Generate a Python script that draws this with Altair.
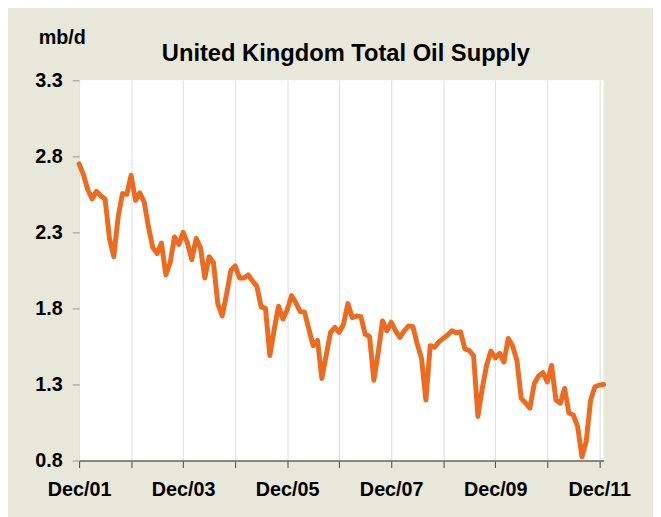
import altair as alt
import pandas as pd

# Monthly UK total oil supply (mb/d), Dec 2001 .. Jan 2012
supply = [
    2.75, 2.68, 2.58, 2.52, 2.57, 2.54, 2.52, 2.26, 2.14, 2.40,
    2.555, 2.55, 2.675, 2.51, 2.56, 2.50, 2.335, 2.20, 2.16, 2.23,
    2.02, 2.10, 2.27, 2.22, 2.30, 2.23, 2.12, 2.26, 2.20, 2.00,
    2.14, 2.10, 1.83, 1.75, 1.89, 2.05, 2.08, 2.00, 2.00, 2.02,
    1.98, 1.945, 1.81, 1.80, 1.49, 1.66, 1.815, 1.73, 1.79, 1.884,
    1.837, 1.78, 1.776, 1.664, 1.555, 1.59, 1.34, 1.49, 1.642, 1.675,
    1.642, 1.696, 1.832, 1.74, 1.75, 1.746, 1.63, 1.616, 1.328, 1.51,
    1.718, 1.653, 1.71, 1.653, 1.61, 1.653, 1.685, 1.68, 1.567, 1.47,
    1.198, 1.555, 1.545, 1.58, 1.603, 1.625, 1.653, 1.64, 1.646, 1.534,
    1.523, 1.49, 1.09, 1.274, 1.425, 1.52, 1.474, 1.505, 1.447, 1.603,
    1.555, 1.458, 1.21, 1.177, 1.144, 1.306, 1.356, 1.378, 1.317, 1.425,
    1.198, 1.177, 1.274, 1.112, 1.10, 1.025, 0.824, 0.928, 1.198, 1.285,
    1.296, 1.30,
]
month_index = list(range(len(supply)))

x_tick_values = [0, 12, 24, 36, 48, 60, 72, 84, 96, 108, 120]
x_tick_labels = ["Dec/01", "", "Dec/03", "", "Dec/05", "", "Dec/07", "",
                 "Dec/09", "", "Dec/11"]
y_tick_values = [0.8, 1.3, 1.8, 2.3, 2.8, 3.3]
title_text = "United Kingdom Total Oil Supply"
unit_text = "mb/d"

df = pd.DataFrame({"m": month_index, "v": supply})

label_expr = "[" + ",".join("'%s'" % s for s in x_tick_labels) + "][round(datum.value/12)]"

FONT = "Liberation Sans"

line = alt.Chart(df).mark_line(
    color="#EE6A1E", strokeWidth=5, strokeJoin="round", strokeCap="round"
).encode(
    x=alt.X("m:Q",
            scale=alt.Scale(domain=[0, 121], nice=False, zero=False),
            axis=alt.Axis(values=x_tick_values, labelExpr=label_expr,
                          title=None, grid=True, gridColor="#dcdcdc", gridWidth=1,
                          domain=True, domainColor="#666666", domainWidth=1.5,
                          ticks=True, tickColor="#444444", tickSize=7, tickWidth=1,
                          labelFont=FONT, labelFontSize=20, labelFontWeight="bold",
                          labelColor="#000000", labelPadding=12,
                          labelFlush=False, labelOverlap=False)),
    y=alt.Y("v:Q",
            scale=alt.Scale(domain=[0.8, 3.3], nice=False, zero=False),
            axis=alt.Axis(values=y_tick_values, format=".1f", title=None,
                          grid=False, domain=False,
                          ticks=True, tickColor="#999999", tickSize=7,
                          labelFont=FONT, labelFontSize=20, labelFontWeight="bold",
                          labelColor="#000000", labelPadding=10,
                          labelFlush=False, labelOverlap=False)),
)

title = alt.Chart(df).mark_text(
    font=FONT, fontSize=24, fontWeight="bold", color="#000000",
    align="center", baseline="alphabetic"
).encode(
    x=alt.value(270), y=alt.value(-19), text=alt.value(title_text)
).transform_filter("datum.m == 0")

unit = alt.Chart(df).mark_text(
    font=FONT, fontSize=20, fontWeight="bold", color="#000000",
    align="center", baseline="alphabetic"
).encode(
    x=alt.value(-17), y=alt.value(-37), text=alt.value(unit_text)
).transform_filter("datum.m == 0")

chart = alt.layer(line, title, unit).properties(
    width=531,
    height=385,
    autosize=alt.AutoSizeParams(type="none"),
    padding={"left": 72, "top": 70, "right": 50, "bottom": 54},
    background="#E7E7DA",
).configure_view(
    stroke=None, fill="#FFFFFF"
)

chart.save("out.html", embed_options={"renderer": "svg", "actions": False})
